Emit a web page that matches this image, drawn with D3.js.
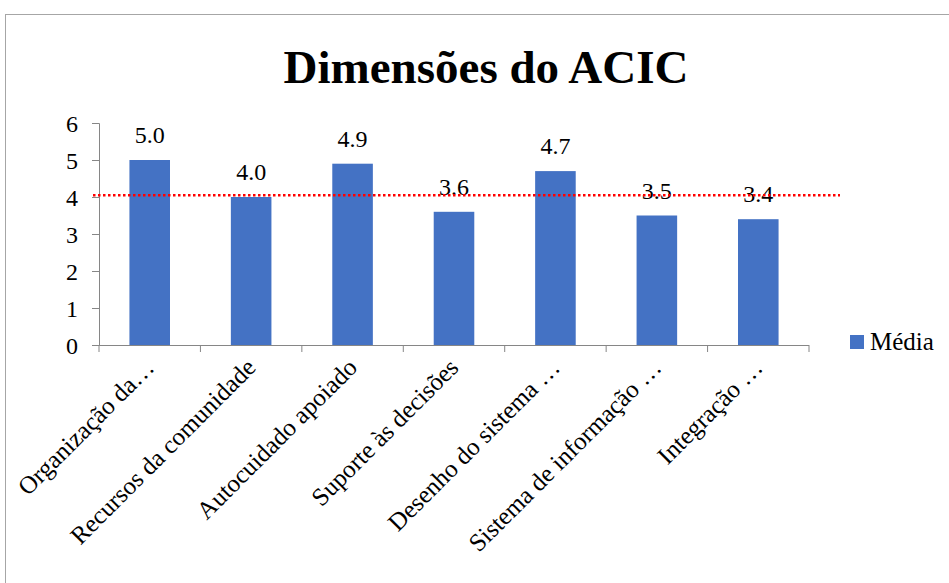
<!DOCTYPE html>
<html>
<head>
<meta charset="utf-8">
<script src="https://cdn.jsdelivr.net/npm/d3@7"></script>
<style>
  svg text { font-family: "Times New Roman", "Liberation Serif", serif !important; }
</style>
</head>
<body style="margin:0">
<svg id="chart" width="949" height="583"></svg>
<script>
var categories = ["Organização da…", "Recursos da comunidade", "Autocuidado apoiado",
                  "Suporte às decisões", "Desenho do sistema …", "Sistema de informação …", "Integração …"];
var medias = [5.0, 4.0, 4.9, 3.6, 4.7, 3.5, 3.4];
var yTicks = [0, 1, 2, 3, 4, 5, 6];
var referencia = 4.05;
var seriesName = "Média";
var title = "Dimensões do ACIC";

var width = 949, height = 583;
var margin = {left: 99, right: 140, top: 123, bottom: 238};
var serif = "Times New Roman";

var svg = d3.select("#chart");

// chart frame
svg.append("rect")
    .attr("x", 5.5).attr("y", 14.5)
    .attr("width", width + 10).attr("height", height + 10)
    .attr("fill", "none")
    .attr("stroke", "#a6a6a6");

var x = d3.scaleBand()
            .domain(categories)
            .range([margin.left, width - margin.right])
            .paddingInner(0.6)
            .paddingOuter(0.3);

var y = d3.scaleLinear()
            .domain([0, 6])
            .range([height - margin.bottom, margin.top]);

svg.append("text")
    .attr("x", 486)
    .attr("y", 83)
    .attr("text-anchor", "middle")
    .style("font-family", serif, "important")
    .attr("font-size", 47)
    .attr("font-weight", "bold")
    .text(title);

// y axis
var yAxis = svg.append("g")
    .attr("transform", "translate(" + margin.left + ",0)")
    .call(d3.axisLeft(y).tickValues(yTicks).tickFormat(d3.format("d")).tickSizeOuter(0).tickSize(7));
yAxis.attr("font-family", serif).attr("font-size", 24);
yAxis.selectAll("line, path").attr("stroke", "#868686");
yAxis.selectAll("text")
    .attr("fill", "#000")
    .style("font-family", serif, "important")
    .attr("x", -21).attr("dy", "0.35em");

// x axis, ticks on band edges
var step = x.step();
var edges = categories.map(function(c) { return x(c) - x.paddingInner() * step / 2; });
edges.push(width - margin.right);
var xAxis = svg.append("g");
xAxis.append("line")
    .attr("x1", margin.left).attr("x2", width - margin.right)
    .attr("y1", y(0) + 0.5).attr("y2", y(0) + 0.5)
    .attr("stroke", "#868686");
xAxis.selectAll(".tick")
    .data(edges)
  .enter().append("line")
    .attr("x1", function(d) { return d; }).attr("x2", function(d) { return d; })
    .attr("y1", y(0)).attr("y2", y(0) + 7)
    .attr("stroke", "#868686");

svg.selectAll(".bar")
    .data(medias)
  .enter().append("rect")
    .attr("class", "bar")
    .attr("x", function(d, i) { return x(categories[i]); })
    .attr("y", function(d) { return y(d); })
    .attr("width", x.bandwidth())
    .attr("height", function(d) { return y(0) - y(d); })
    .attr("fill", "#4472c4");

svg.selectAll(".lbl")
    .data(medias)
  .enter().append("text")
    .attr("class", "lbl")
    .attr("x", function(d, i) { return x(categories[i]) + x.bandwidth() / 2; })
    .attr("y", function(d) { return y(d) - 17; })
    .attr("text-anchor", "middle")
    .style("font-family", serif, "important")
    .attr("font-size", 24)
    .text(function(d) { return d.toFixed(1); });

// reference line
svg.append("line")
    .attr("x1", margin.left - 6).attr("x2", width - margin.right + 31)
    .attr("y1", y(referencia)).attr("y2", y(referencia))
    .attr("stroke", "#ff0000")
    .attr("stroke-width", 2.5)
    .attr("stroke-dasharray", "2.5,2.5");

// category labels
svg.selectAll(".cat")
    .data(categories)
  .enter().append("text")
    .attr("class", "cat")
    .attr("transform", function(d) {
        return "translate(" + (x(d) + x.bandwidth() / 2 + 6) + "," + (y(0) + 24) + ") rotate(-45)";
    })
    .attr("text-anchor", "end")
    .style("font-family", serif, "important")
    .attr("font-size", 25)
    .text(function(d) { return d; });

// legend
var legend = svg.append("g").attr("transform", "translate(850,335)");
legend.append("rect").attr("width", 14).attr("height", 14).attr("fill", "#4472c4");
legend.append("text").attr("x", 20).attr("y", 15)
    .style("font-family", serif, "important")
    .attr("font-size", 25)
    .text(seriesName);
</script>
</body>
</html>
